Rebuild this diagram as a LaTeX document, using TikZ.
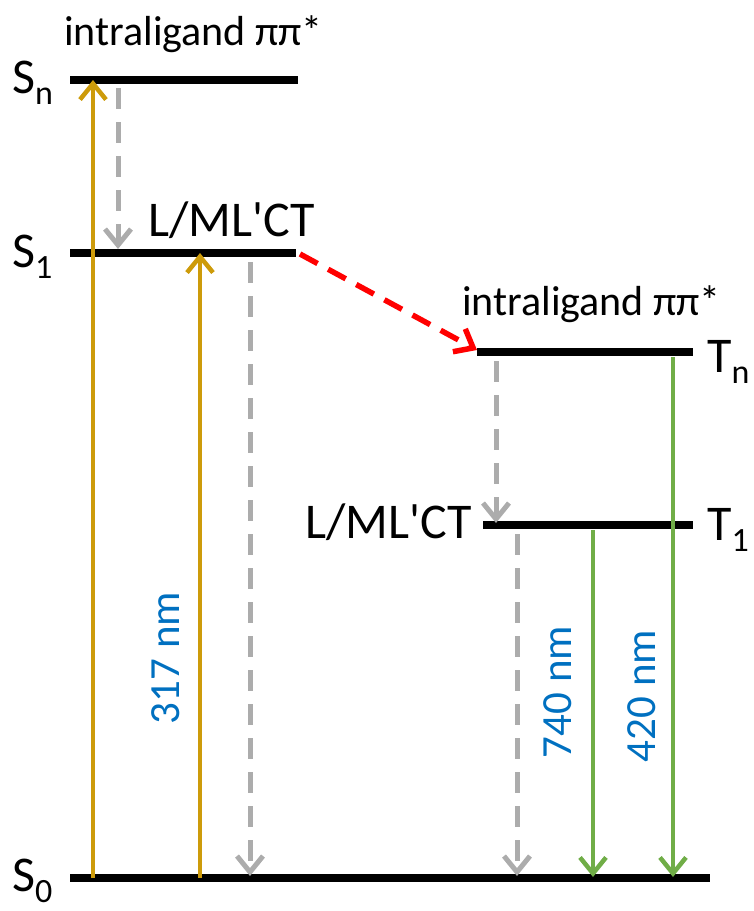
\documentclass[tikz,border=0pt]{standalone}
\usepackage{fontspec}
\setmainfont{Carlito}[Ligatures=TeXOff]
\usetikzlibrary{arrows.meta}
\definecolor{gold}{RGB}{205,155,10}
\definecolor{lgray}{RGB}{172,172,172}
\definecolor{lgreen}{RGB}{112,173,71}
\definecolor{lblue}{RGB}{0,112,192}
\definecolor{lred}{RGB}{255,0,0}
\newcommand{\lvl}[2]{#1\raisebox{-11pt}{\fontsize{34}{34}\selectfont #2}}
\begin{document}
\begin{tikzpicture}[x=1pt,y=-1pt,
  level/.style={line width=7.5pt},
  tip/.style={-{Straight Barb[length=16pt,width=26pt]}},
  excite/.style={tip,draw=gold,line width=4.5pt},
  relax/.style={tip,draw=lgray,line width=5pt,dash pattern=on 21pt off 13pt},
  emit/.style={tip,draw=lgreen,line width=4.5pt},
  isc/.style={tip,draw=lred,line width=5.5pt,dash pattern=on 20pt off 12pt},
  lab/.style={inner sep=0pt,anchor=base west},
  state/.style={lab,font=\fontsize{50}{50}\selectfont},
  ct/.style={lab,font=\fontsize{50}{50}\selectfont},
  il/.style={lab,font=\fontsize{42}{42}\selectfont},
  nm/.style={inner sep=0pt,rotate=90,text=lblue,font=\fontsize{43}{43}\selectfont}]
\useasboundingbox (0,0) rectangle (753,911);
% level lines
\coordinate (Snl) at (70,80);  \coordinate (Snr) at (298,80);
\coordinate (S1l) at (70,253); \coordinate (S1r) at (296,253);
\coordinate (Tnl) at (477,352); \coordinate (Tnr) at (693,352);
\coordinate (T1l) at (483,525); \coordinate (T1r) at (693,525);
\coordinate (S0l) at (70,878); \coordinate (S0r) at (710,878);
\draw[level] (Snl) -- (Snr);
\draw[level] (S1l) -- (S1r);
\draw[level] (Tnl) -- (Tnr);
\draw[level] (T1l) -- (T1r);
\draw[level] (S0l) -- (S0r);
% labels
\node[state] (sn) at (12,93) {\lvl{S}{n}};
\node[state] (s1) at (12,267) {\lvl{S}{1}};
\node[state] (s0) at (12,891) {\lvl{S}{0}};
\node[state] (tn) at (707,372) {\lvl{T}{n}};
\node[state] (t1) at (707,540) {\lvl{T}{1}};
\node[il] (il1) at (64,45) {intraligand ππ*};
\node[il] (il2) at (462,315) {intraligand ππ*};
\node[ct] (ct1) at (148,236) {L/ML'CT};
\node[ct] (ct2) at (305,538) {L/ML'CT};
% arrow end points
\coordinate (a1s) at (93,878);  \coordinate (a1e) at (93,80);
\coordinate (a2s) at (200,878); \coordinate (a2e) at (200,253);
\coordinate (r1s) at (118,88);  \coordinate (r1e) at (118,249);
\coordinate (r2s) at (250,262); \coordinate (r2e) at (250,876);
\coordinate (r3s) at (496,361); \coordinate (r3e) at (496,523);
\coordinate (r4s) at (517,534); \coordinate (r4e) at (517,876);
\coordinate (g1s) at (593,530); \coordinate (g1e) at (593,877);
\coordinate (g2s) at (673,357); \coordinate (g2e) at (673,877);
\coordinate (xs) at (300,254);  \coordinate (xe) at (477,350);
% arrows
\draw[excite] (a1s) -- (a1e);
\draw[excite] (a2s) -- (a2e);
\draw[relax] (r1s) -- (r1e);
\draw[relax] (r2s) -- (r2e);
\draw[relax] (r3s) -- (r3e);
\draw[relax] (r4s) -- (r4e);
\draw[emit] (g1s) -- (g1e);
\draw[emit] (g2s) -- (g2e);
\draw[isc] (xs) -- (xe);
% wavelengths
\node[nm] (w1) at (166,658) {317 nm};
\node[nm] (w2) at (558,692) {740 nm};
\node[nm] (w3) at (642,696) {420 nm};
\end{tikzpicture}
\end{document}
